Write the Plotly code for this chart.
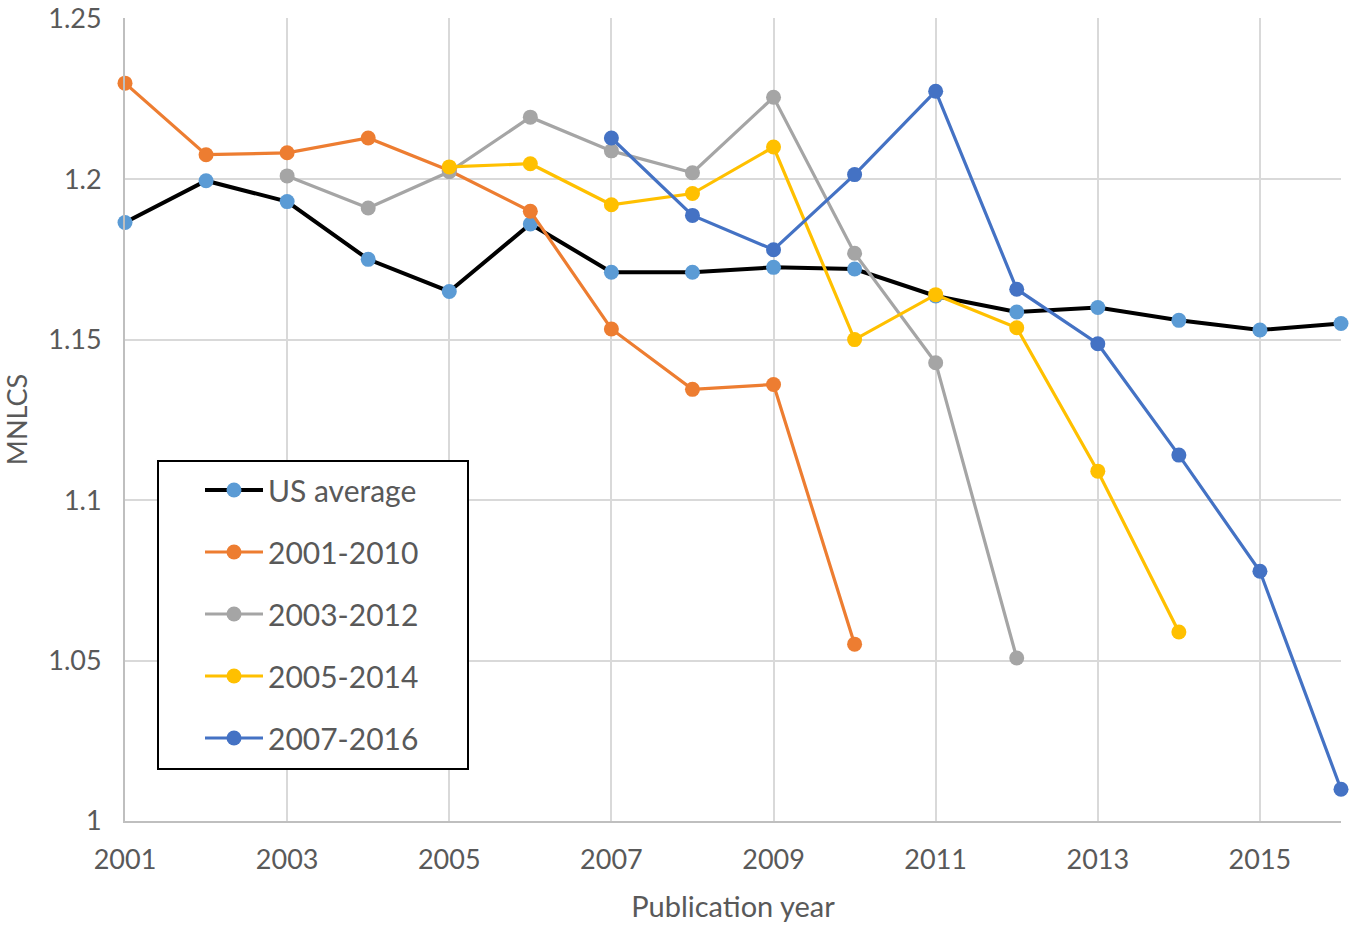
import plotly.graph_objects as go

years = list(range(2001, 2017))

us_average = [1.1865, 1.1995, 1.193, 1.175, 1.165, 1.186, 1.171, 1.171, 1.1725, 1.172,
              1.1636, 1.1586, 1.160, 1.156, 1.153, 1.155]

years_2001_2010 = list(range(2001, 2011))
s_2001_2010 = [1.2299, 1.2076, 1.2082, 1.2128, 1.2027, 1.190, 1.1533, 1.1345, 1.136, 1.0551]

years_2003_2012 = list(range(2003, 2013))
s_2003_2012 = [1.201, 1.191, 1.2023, 1.2193, 1.2088, 1.202, 1.2255, 1.1769, 1.1428, 1.0508]

years_2005_2014 = list(range(2005, 2015))
s_2005_2014 = [1.2038, 1.2048, 1.192, 1.1955, 1.21, 1.150, 1.164, 1.1537, 1.109, 1.0589]

years_2007_2016 = list(range(2007, 2017))
s_2007_2016 = [1.2128, 1.1887, 1.178, 1.2014, 1.2274, 1.1657, 1.1487, 1.114, 1.0778, 1.0099]

y_tickvals = [1.0, 1.05, 1.1, 1.15, 1.2, 1.25]
y_ticktext = ["1", "1.05", "1.1", "1.15", "1.2", "1.25"]

FONT = "Lato, Open Sans, sans-serif"
TXT = "#595959"

fig = go.Figure()

def add(x, y, name, line_color, marker_color, width=3.2):
    fig.add_trace(go.Scatter(
        x=x, y=y, name=name, mode="lines+markers",
        line=dict(color=line_color, width=width),
        marker=dict(color=marker_color, size=15),
        legendgroup=name, cliponaxis=False,
    ))

add(years, us_average, "US average", "#000000", "#5B9BD5", 4)
add(years_2001_2010, s_2001_2010, "2001-2010", "#ED7D31", "#ED7D31")
add(years_2003_2012, s_2003_2012, "2003-2012", "#A5A5A5", "#A5A5A5")
add(years_2005_2014, s_2005_2014, "2005-2014", "#FFC000", "#FFC000")
add(years_2007_2016, s_2007_2016, "2007-2016", "#4472C4", "#4472C4")

W, H = 1353, 926
L, R, T, B = 125, 12, 18, 105
pw, ph = W - L - R, H - T - B

def px_x(p):
    return (p - L) / pw

def px_y(p):
    return (H - B - p) / ph

# legend frame (drawn as a shape to match the wide padded box)
fig.add_shape(type="rect", xref="paper", yref="paper",
              x0=px_x(158), x1=px_x(468), y0=px_y(769), y1=px_y(461),
              line=dict(color="#000000", width=2), fillcolor="white", layer="above")

fig.update_layout(
    width=W, height=H,
    margin=dict(l=L, r=R, t=T, b=B),
    paper_bgcolor="white", plot_bgcolor="white",
    font=dict(family=FONT, color=TXT, size=27),
    showlegend=True,
    legend=dict(
        x=px_x(200), y=px_y(464), xanchor="left", yanchor="top",
        bgcolor="rgba(0,0,0,0)", borderwidth=0,
        font=dict(size=30, color=TXT, family=FONT),
        traceorder="grouped", tracegroupgap=20,
        itemwidth=58,
    ),
    xaxis=dict(
        range=[2001, 2016], tick0=2001, dtick=2,
        showgrid=True, gridcolor="#D9D9D9", gridwidth=2,
        showline=True, linecolor="#BFBFBF", linewidth=2,
        zeroline=False, ticks="", automargin=False,
        ticklabelstandoff=14, ticklabeloverflow="allow",
        title=dict(text="Publication year", font=dict(size=29, color=TXT), standoff=22),
        tickfont=dict(size=27, color=TXT),
    ),
    yaxis=dict(
        range=[1.0, 1.2502],
        showgrid=True, gridcolor="#D9D9D9", gridwidth=2,
        showline=True, linecolor="#BFBFBF", linewidth=2,
        zeroline=False, ticks="", automargin=False,
        tickvals=y_tickvals, ticktext=y_ticktext,
        ticklabelstandoff=16, ticklabeloverflow="allow",
        title=dict(text="MNLCS", font=dict(size=27, color=TXT), standoff=18),
        tickfont=dict(size=27, color=TXT),
    ),
)

fig.write_html("out.html",
               config={"displayModeBar": False},
               post_script="document.body.style.margin='0';document.body.style.padding='0';")
